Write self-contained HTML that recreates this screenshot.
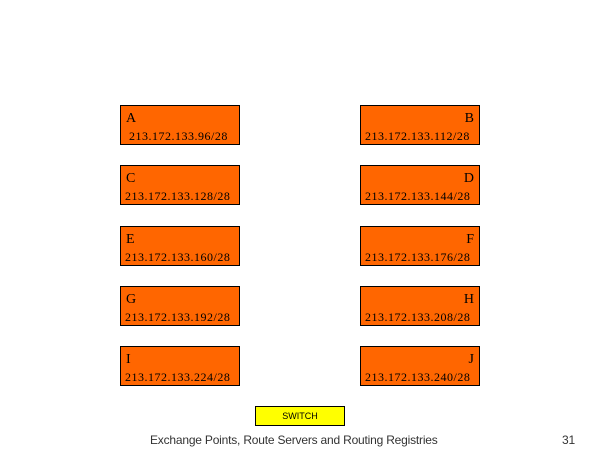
<!DOCTYPE html>
<html><head><style>
body{margin:0;width:600px;height:450px;background:#fff;position:relative;overflow:hidden}
.b{position:absolute;width:118px;height:38px;background:#ff6600;border:1px solid #000;font-family:"Liberation Serif",serif;color:#000}
.l{position:absolute;top:5px;font-size:14px;line-height:16px}
.ip{position:absolute;top:23px;left:4px;font-size:12px;letter-spacing:0.5px;line-height:14px;white-space:nowrap}
.L .l{left:5px}.R .l{right:5px}
.sw{position:absolute;left:255px;top:406px;width:88px;height:18px;background:#ff0;border:1px solid #000;font-family:"Liberation Sans",sans-serif;font-size:9px;text-align:center;line-height:18px}
.f{position:absolute;top:433px;font-family:"Liberation Sans",sans-serif;font-size:12px;letter-spacing:-0.2px;color:#333}
</style></head><body>
<div class="b L" style="left:120px;top:105px"><span class="l">A</span><span class="ip" style="left:8px">213.172.133.96/28</span></div>
<div class="b R" style="left:360px;top:105px"><span class="l">B</span><span class="ip">213.172.133.112/28</span></div>
<div class="b L" style="left:120px;top:165px"><span class="l">C</span><span class="ip">213.172.133.128/28</span></div>
<div class="b R" style="left:360px;top:165px"><span class="l">D</span><span class="ip">213.172.133.144/28</span></div>
<div class="b L" style="left:120px;top:226px"><span class="l">E</span><span class="ip">213.172.133.160/28</span></div>
<div class="b R" style="left:360px;top:226px"><span class="l">F</span><span class="ip">213.172.133.176/28</span></div>
<div class="b L" style="left:120px;top:286px"><span class="l">G</span><span class="ip">213.172.133.192/28</span></div>
<div class="b R" style="left:360px;top:286px"><span class="l">H</span><span class="ip">213.172.133.208/28</span></div>
<div class="b L" style="left:120px;top:346px"><span class="l">I</span><span class="ip">213.172.133.224/28</span></div>
<div class="b R" style="left:360px;top:346px"><span class="l">J</span><span class="ip">213.172.133.240/28</span></div>
<div class="sw">SWITCH</div>
<div class="f" style="left:150px">Exchange Points, Route Servers and Routing Registries</div>
<div class="f" style="left:562px">31</div>
</body></html>
